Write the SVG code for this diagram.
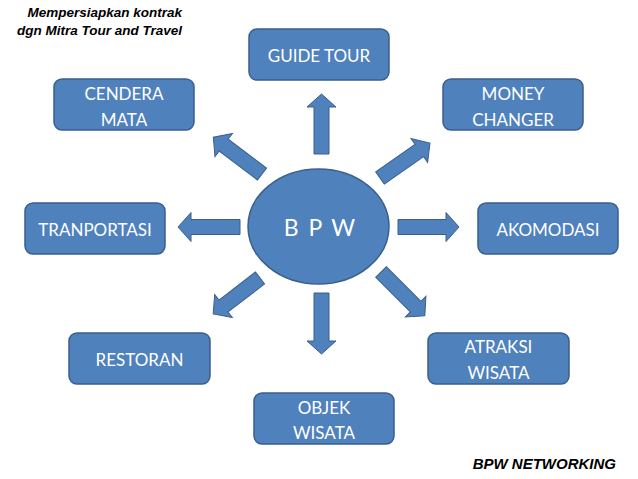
<svg xmlns="http://www.w3.org/2000/svg" width="638" height="479" viewBox="0 0 638 479">
<style>
.box{fill:#4F81BD;stroke:#3A5F8B;stroke-width:1.5}
.lbl{font-family:Lato,"Open Sans",sans-serif;font-size:17px;fill:#FFFFFF;text-anchor:middle}
.big{font-size:23px;letter-spacing:2px}
.arr{fill:#4F81BD;stroke:#3A5F8B;stroke-width:1}
.note{font-family:"Liberation Sans",Arial,sans-serif;font-weight:bold;font-style:italic;fill:#000000;text-anchor:end}
</style>
<rect width="638" height="479" fill="#FFFFFF"/>
<text class="note" font-size="13.5" x="182" y="17">Mempersiapkan kontrak</text>
<text class="note" font-size="13.5" x="182" y="35">dgn Mitra Tour and Travel</text>
<g id="connectors">
<path class="arr" transform="translate(321.5,154) rotate(-90)" d="M0,-7.5 H47 V-14.5 L60,0 L47,14.5 V7.5 H0 Z"/>
<path class="arr" transform="translate(321.5,293) rotate(90)" d="M0,-7.5 H48 V-14.5 L61,0 L48,14.5 V7.5 H0 Z"/>
<path class="arr" transform="translate(240,227) rotate(180)" d="M0,-7.5 H49 V-14.5 L62,0 L49,14.5 V7.5 H0 Z"/>
<path class="arr" transform="translate(398,227)" d="M0,-7.5 H48 V-14.5 L61,0 L48,14.5 V7.5 H0 Z"/>
<path class="arr" transform="translate(262,174) rotate(-142.9)" d="M0,-7.5 H48 V-14.5 L61,0 L48,14.5 V7.5 H0 Z"/>
<path class="arr" transform="translate(380,178) rotate(-35)" d="M0,-7.5 H48 V-14.5 L61,0 L48,14.5 V7.5 H0 Z"/>
<path class="arr" transform="translate(260,278) rotate(142.5)" d="M0,-7.5 H46 V-14.5 L59,0 L46,14.5 V7.5 H0 Z"/>
<path class="arr" transform="translate(381,272) rotate(45)" d="M0,-7.5 H49 V-14.5 L62,0 L49,14.5 V7.5 H0 Z"/>
</g>
<g id="bpw">
<ellipse class="box" cx="318.5" cy="226.5" rx="70.5" ry="57.5"/>
<text class="lbl big" x="320.5" y="236">B P W</text>
</g>
<g id="guide-tour">
<rect class="box" x="249" y="29" width="140" height="51" rx="8"/>
<text class="lbl" x="319" y="62">GUIDE TOUR</text>
</g>
<g id="cendera-mata">
<rect class="box" x="54" y="79" width="140" height="51" rx="8"/>
<text class="lbl" x="124" y="100">CENDERA</text>
<text class="lbl" x="124" y="126">MATA</text>
</g>
<g id="money-changer">
<rect class="box" x="443" y="79" width="140" height="51" rx="8"/>
<text class="lbl" x="513" y="100">MONEY</text>
<text class="lbl" x="513" y="126">CHANGER</text>
</g>
<g id="tranportasi">
<rect class="box" x="25" y="203" width="140" height="51" rx="8"/>
<text class="lbl" x="95" y="236">TRANPORTASI</text>
</g>
<g id="akomodasi">
<rect class="box" x="478" y="203" width="140" height="51" rx="8"/>
<text class="lbl" x="548" y="236">AKOMODASI</text>
</g>
<g id="restoran">
<rect class="box" x="69" y="333" width="141" height="51" rx="8"/>
<text class="lbl" x="139.5" y="366">RESTORAN</text>
</g>
<g id="objek-wisata">
<rect class="box" x="254" y="393" width="140" height="51" rx="8"/>
<text class="lbl" x="324" y="414">OBJEK</text>
<text class="lbl" x="324" y="439">WISATA</text>
</g>
<g id="atraksi-wisata">
<rect class="box" x="428" y="333" width="141" height="51" rx="8"/>
<text class="lbl" x="498.5" y="353">ATRAKSI</text>
<text class="lbl" x="498.5" y="379">WISATA</text>
</g>
<text class="note" font-size="15" x="616" y="469">BPW NETWORKING</text>
</svg>
